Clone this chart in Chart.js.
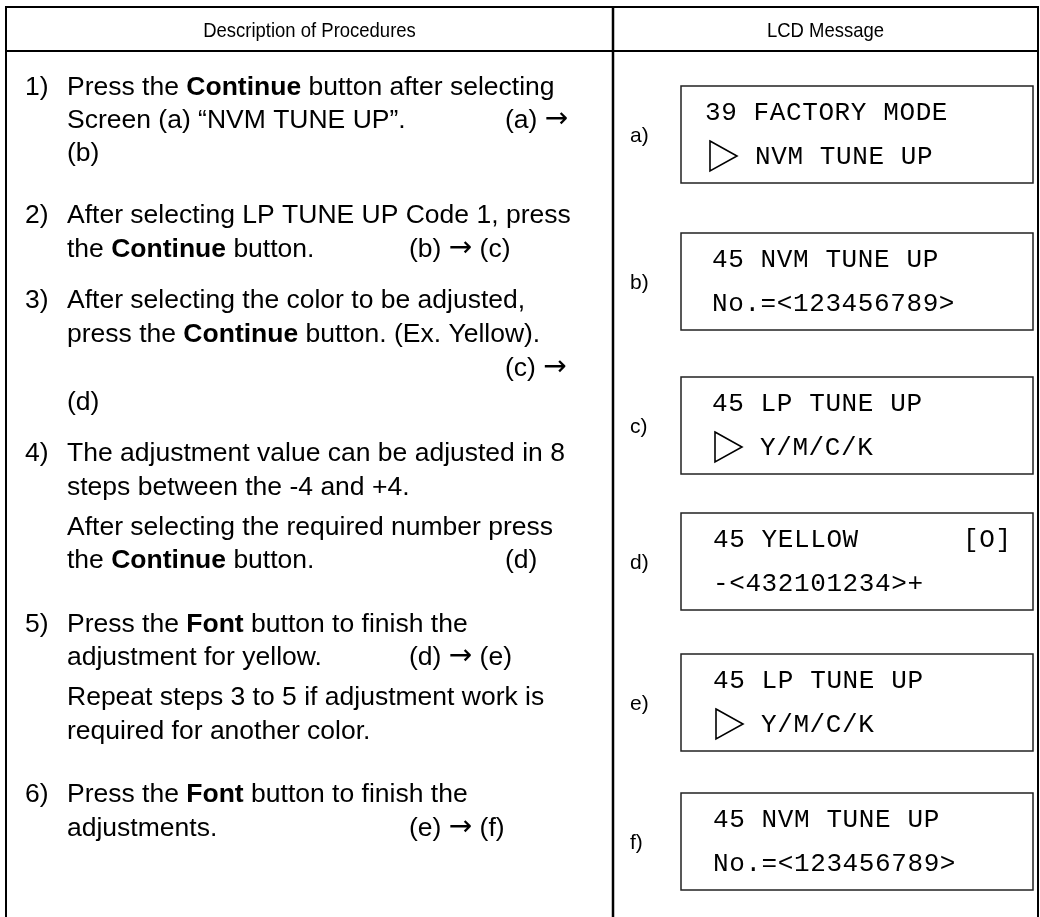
<!DOCTYPE html>
<html>
<head>
<meta charset="utf-8">
<script src="https://cdn.jsdelivr.net/npm/chart.js@4.4.0/dist/chart.umd.min.js"></script>
<style>
  html, body { margin: 0; padding: 0; background: #fff; }
  #chart { display: block; }
</style>
</head>
<body>
<canvas id="chart" width="1040" height="917"></canvas>
<script>
// ---- content ----
const headers = ["Description of Procedures", "LCD Message"];
const stepNumbers = ["1)", "2)", "3)", "4)", "5)", "6)"];
// "**" marks bold, "\t" jumps to the step's tab stop
const stepLines = [
  ["Press the **Continue** button after selecting", "Screen (a) “NVM TUNE UP”.\t(a) →", "(b)"],
  ["After selecting LP TUNE UP Code 1, press", "the **Continue** button.\t(b) → (c)"],
  ["After selecting the color to be adjusted,", "press the **Continue** button. (Ex. Yellow).", "\t(c) →", "(d)"],
  ["The adjustment value can be adjusted in 8", "steps between the -4 and +4.", "After selecting the required number press", "the **Continue** button.\t(d)"],
  ["Press the **Font** button to finish the", "adjustment for yellow.\t(d) → (e)", "Repeat steps 3 to 5 if adjustment work is", "required for another color."],
  ["Press the **Font** button to finish the", "adjustments.\t(e) → (f)"]
];
const screenLabels = ["a)", "b)", "c)", "d)", "e)", "f)"];
const screenLine1 = ["39 FACTORY MODE", "45 NVM TUNE UP", "45 LP TUNE UP", "45 YELLOW", "45 LP TUNE UP", "45 NVM TUNE UP"];
const screenLine2 = ["NVM TUNE UP", "No.=<123456789>", "Y/M/C/K", "-<432101234>+", "Y/M/C/K", "No.=<123456789>"];
const screenCursor = [true, false, true, false, true, false];
const screenFlag = ["", "", "", "[O]", "", ""];

// ---- layout (page units, y grows downward) ----
const tableTop = 7, headerBottom = 51, tableLeft = 6, colSplit = 613, tableRight = 1038, pageBottom = 917;
const stepLineY = [[85, 118, 151], [213, 247], [298, 332, 366, 400], [451, 485, 525, 558], [622, 655, 695, 729], [792, 826]];
const stepTabX = [505, 409, 505, 505, 409, 409];
const numX = 25, textX = 67;
const boxTop = [86, 233, 377, 513, 654, 793];
const boxH = 97, boxLeft = 681, boxRight = 1033;
const lcdX = [705, 712, 712, 713, 713, 713];
const flagX = 963;

const SANS = '"Liberation Sans", Arial, Helvetica, sans-serif';
const MONO = '"Liberation Mono", "Courier New", Courier, monospace';
const ARROW = '"DejaVu Sans", sans-serif';
const bodySize = 26.5, headSize = 21, labelSize = 21, lcdSize = 26;

// "**bold**" segments, and the arrow taken from a face where it is long and centred
function drawRich(ctx, text, x0, yBase) {
  let cx = x0;
  text.split('**').forEach((part, i) => {
    part.split(/(→)/).forEach(seg => {
      if (!seg) return;
      if (seg === '→') {
        ctx.font = '28px ' + ARROW;
        ctx.fillText(seg, cx, yBase - 1);
      } else {
        ctx.font = (i % 2 ? 'bold ' : '') + bodySize + 'px ' + SANS;
        ctx.fillText(seg, cx, yBase);
      }
      cx += ctx.measureText(seg).width;
    });
  });
}

// header face: plain sans, slightly squeezed
function drawNarrow(ctx, text, cx, yBase) {
  ctx.save();
  ctx.translate(cx, yBase);
  ctx.scale(0.88, 1);
  ctx.textAlign = 'center';
  ctx.fillText(text, 0, 0);
  ctx.restore();
}

const tablePlugin = {
  id: 'procedureTable',
  afterDraw(chart) {
    const { ctx, scales: { x, y } } = chart;
    const px = v => x.getPixelForValue(v);
    const py = v => y.getPixelForValue(v);
    ctx.save();
    ctx.fillStyle = '#000';
    ctx.strokeStyle = '#000';

    // table rules
    ctx.lineWidth = 2;
    ctx.beginPath();
    ctx.moveTo(px(tableLeft - 1), py(tableTop)); ctx.lineTo(px(tableRight + 1), py(tableTop));
    ctx.moveTo(px(tableLeft), py(headerBottom)); ctx.lineTo(px(tableRight), py(headerBottom));
    ctx.moveTo(px(tableLeft), py(tableTop)); ctx.lineTo(px(tableLeft), py(pageBottom));
    ctx.moveTo(px(tableRight), py(tableTop)); ctx.lineTo(px(tableRight), py(pageBottom));
    ctx.stroke();
    ctx.lineWidth = 2.5;
    ctx.beginPath();
    ctx.moveTo(px(colSplit), py(tableTop)); ctx.lineTo(px(colSplit), py(pageBottom));
    ctx.stroke();

    // headers
    ctx.font = headSize + 'px ' + SANS;
    ctx.textBaseline = 'alphabetic';
    const hy = py((tableTop + headerBottom) / 2) + headSize * 0.36;
    drawNarrow(ctx, headers[0], px((tableLeft + colSplit) / 2), hy);
    drawNarrow(ctx, headers[1], px((colSplit + tableRight) / 2), hy);

    // procedure steps
    ctx.textAlign = 'left';
    stepLines.forEach((lines, s) => {
      ctx.font = bodySize + 'px ' + SANS;
      ctx.fillText(stepNumbers[s], px(numX), py(stepLineY[s][0]) + bodySize * 0.36);
      lines.forEach((line, l) => {
        const yb = py(stepLineY[s][l]) + bodySize * 0.36;
        const [left, right] = line.split('\t');
        if (left) drawRich(ctx, left, px(textX), yb);
        if (right) drawRich(ctx, right, px(stepTabX[s]), yb);
      });
    });

    // LCD screens
    screenLabels.forEach((lab, i) => {
      const top = boxTop[i];
      ctx.letterSpacing = '0px';
      ctx.font = labelSize + 'px ' + SANS;
      ctx.fillText(lab, px(630), py(top + boxH / 2) + labelSize * 0.36);

      ctx.lineWidth = 1.5;
      ctx.strokeStyle = '#222';
      ctx.strokeRect(px(boxLeft), py(top), px(boxRight) - px(boxLeft), py(top + boxH) - py(top));

      ctx.font = lcdSize + 'px ' + MONO;
      ctx.letterSpacing = '0.6px';
      const off = lcdSize * 0.32;
      ctx.fillText(screenLine1[i], px(lcdX[i]), py(top + 26) + off);
      if (screenFlag[i]) ctx.fillText(screenFlag[i], px(flagX), py(top + 26) + off);
      const y2 = top + 70;
      if (screenCursor[i]) {
        const tx = lcdX[i] + (i === 0 ? 5 : 3);
        ctx.lineWidth = 1.6;
        ctx.strokeStyle = '#000';
        ctx.beginPath();
        ctx.moveTo(px(tx), py(y2 - 15));
        ctx.lineTo(px(tx + 27), py(y2));
        ctx.lineTo(px(tx), py(y2 + 15));
        ctx.closePath();
        ctx.stroke();
        ctx.fillText(screenLine2[i], px(tx + 45), py(y2) + off);
      } else {
        ctx.fillText(screenLine2[i], px(lcdX[i]), py(y2) + off);
      }
    });
    ctx.restore();
  }
};

new Chart(document.getElementById('chart').getContext('2d'), {
  type: 'scatter',
  data: { datasets: [] },
  options: {
    responsive: false,
    animation: false,
    layout: { padding: 0 },
    plugins: { legend: { display: false }, tooltip: { enabled: false } },
    scales: {
      x: { type: 'linear', min: 0, max: 1040, display: false },
      y: { type: 'linear', min: 0, max: 917, reverse: true, display: false }
    }
  },
  plugins: [tablePlugin]
});
</script>
</body>
</html>
